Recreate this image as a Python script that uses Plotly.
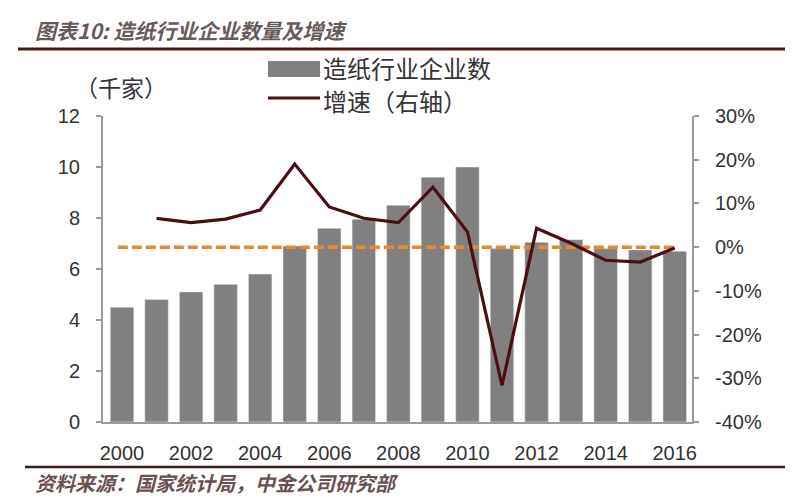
import plotly.graph_objects as go

# ---- data ----
years = list(range(2000, 2017))
firms_k = [4.5, 4.8, 5.1, 5.4, 5.8, 6.9, 7.6, 7.95, 8.5, 9.6, 10.0, 6.8, 7.05, 7.15, 6.8, 6.75, 6.7]
growth_years = list(range(2001, 2017))
growth = [0.066, 0.056, 0.064, 0.085, 0.19, 0.092, 0.066, 0.056, 0.137, 0.035,
          -0.316, 0.043, 0.009, -0.030, -0.034, -0.002]
ref_years = [1999.88, 2016]
ref_values = [0, 0]
x_tick_vals = [2000, 2002, 2004, 2006, 2008, 2010, 2012, 2014, 2016]
x_tick_text = ["2000", "2002", "2004", "2006", "2008", "2010", "2012", "2014", "2016"]
y2_tick_vals = [-0.4, -0.3, -0.2, -0.1, 0.0, 0.1, 0.2, 0.3]
y2_tick_text = ["-40%", "-30%", "-20%", "-10%", "0%", "10%", "20%", "30%"]

title_text = "图表10: 造纸行业企业数量及增速"
source_text = "资料来源：国家统计局，中金公司研究部"
unit_text = "（千家）"
bar_name = "造纸行业企业数"
line_name = "增速（右轴）"

BAR_COLOR = "#808080"
LINE_COLOR = "#4b0f12"
REF_COLOR = "#E8892F"
AXIS_COLOR = "#9a9a9a"
NUM_FONT = "Liberation Sans, Arial, sans-serif"
CJK_FONT = "Noto Sans CJK SC, sans-serif"

# plot area (in page pixels): x 103..692, y 116..422 ; page body has 8px margin
OFF = 8
PL, PR, PT, PB = 103, 692, 116, 422
PW, PH = PR - PL, PB - PT


def px(xp):
    return (xp - PL) / PW


def py(yp):
    return (PB - yp) / PH


fig = go.Figure()
fig.add_trace(go.Bar(x=years, y=firms_k, name=bar_name, marker_color=BAR_COLOR,
                     width=0.68, yaxis="y", showlegend=False))
fig.add_trace(go.Scatter(x=ref_years, y=ref_values, mode="lines", yaxis="y2",
                         line=dict(color=REF_COLOR, width=3.5, dash="10px,4px"),
                         showlegend=False, hoverinfo="skip"))
fig.add_trace(go.Scatter(x=growth_years, y=growth, name=line_name, mode="lines", yaxis="y2",
                         line=dict(color=LINE_COLOR, width=3.2), showlegend=False))

fig.update_layout(
    width=800 - OFF, height=500 - OFF,
    paper_bgcolor="white", plot_bgcolor="white",
    margin=dict(l=PL - OFF, r=800 - PR, t=PT - OFF, b=500 - PB),
    xaxis=dict(range=[1999.45, 2016.5], tickvals=x_tick_vals, ticktext=x_tick_text,
               showgrid=False, zeroline=False, showline=True, linecolor=AXIS_COLOR, linewidth=2,
               ticks="", ticklabelstandoff=12,
               tickfont=dict(family=NUM_FONT, size=20, color="#333333")),
    yaxis=dict(range=[0, 12], dtick=2, showgrid=False, zeroline=False,
               showline=True, linecolor=AXIS_COLOR, linewidth=2,
               ticks="outside", ticklen=5, tickcolor=AXIS_COLOR, tickwidth=1.5,
               ticklabelstandoff=12,
               tickfont=dict(family=NUM_FONT, size=20, color="#333333")),
    yaxis2=dict(range=[-0.4, 0.3], tickvals=y2_tick_vals, ticktext=y2_tick_text,
                overlaying="y", side="right",
                showgrid=False, zeroline=False, showline=True, linecolor=AXIS_COLOR, linewidth=2,
                ticks="outside", ticklen=5, tickcolor=AXIS_COLOR, tickwidth=1.5,
                ticklabelstandoff=12,
                tickfont=dict(family=NUM_FONT, size=20, color="#333333")),
    showlegend=False,
)

# title, source, unit
fig.add_annotation(text=title_text, xref="paper", yref="paper", x=px(33), y=py(30),
                   xanchor="left", yanchor="middle", showarrow=False,
                   font=dict(family=CJK_FONT, size=21, color="#665a5a", weight="bold", style="italic"))
fig.add_annotation(text=source_text, xref="paper", yref="paper", x=px(33), y=py(482),
                   xanchor="left", yanchor="middle", showarrow=False,
                   font=dict(family=CJK_FONT, size=20, color="#6a5050", weight="bold", style="italic"))
fig.add_annotation(text=unit_text, xref="paper", yref="paper", x=px(121), y=py(87),
                   xanchor="center", yanchor="middle", showarrow=False,
                   font=dict(family=CJK_FONT, size=23, color="#333333"))

# legend (drawn)
fig.add_annotation(text=bar_name, xref="paper", yref="paper", x=px(321), y=py(68),
                   xanchor="left", yanchor="middle", showarrow=False,
                   font=dict(family=CJK_FONT, size=24, color="#333333"))
fig.add_annotation(text=line_name, xref="paper", yref="paper", x=px(321), y=py(101),
                   xanchor="left", yanchor="middle", showarrow=False,
                   font=dict(family=CJK_FONT, size=24, color="#333333"))

fig.update_layout(shapes=[
    dict(type="line", xref="paper", yref="paper", x0=px(18), x1=px(785),
         y0=py(49), y1=py(49), line=dict(color="#4a1515", width=3)),
    dict(type="line", xref="paper", yref="paper", x0=px(25), x1=px(785),
         y0=py(467), y1=py(467), line=dict(color="#3a1a1a", width=2.5)),
    dict(type="rect", xref="paper", yref="paper", x0=px(268), x1=px(320),
         y0=py(77), y1=py(61), fillcolor=BAR_COLOR, line=dict(width=0)),
    dict(type="line", xref="paper", yref="paper", x0=px(268), x1=px(320),
         y0=py(98), y1=py(98), line=dict(color=LINE_COLOR, width=3)),
])

fig.write_html("out.html")
